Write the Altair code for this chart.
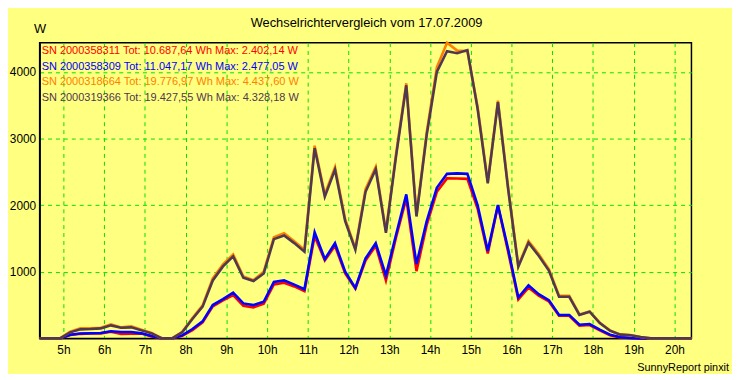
import altair as alt
import pandas as pd

TIMES = [
    "04:25", "04:40", "04:55", "05:10", "05:25", "05:40", "05:55", "06:10", "06:25", "06:40",
    "06:55", "07:10", "07:25", "07:40", "07:55", "08:10", "08:25", "08:40", "08:55", "09:10",
    "09:25", "09:40", "09:55", "10:10", "10:25", "10:40", "10:55", "11:10", "11:25", "11:40",
    "11:55", "12:10", "12:25", "12:40", "12:55", "13:10", "13:25", "13:40", "13:55", "14:10",
    "14:25", "14:40", "14:55", "15:10", "15:25", "15:40", "15:55", "16:10", "16:25", "16:40",
    "16:55", "17:10", "17:25", "17:40", "17:55", "18:10", "18:25", "18:40", "18:55", "19:10",
    "19:25", "19:40", "19:55", "20:10", "20:25",
]

SN_358311 = [
    0, 0, 0,
    50, 68, 72, 75, 100, 65, 70, 72, 30,
    0, 0,
    40, 125, 240, 480, 570, 650, 490, 465, 520, 810, 835, 780, 710,
    1535, 1170, 1390, 975, 745, 1170, 1390, 870, 1520, 2100, 1010, 1700, 2200,
    2402.14, 2400, 2395, 1950, 1275, 1990, 1300, 584, 762, 640, 555,
    340, 340, 190, 200, 120, 45, 15, 5,
    0, 0, 0, 0, 0, 0,
]
SN_358309 = [
    0, 0, 0,
    55, 72, 77, 80, 107, 96, 96, 75, 35,
    0, 0,
    45, 140, 255, 500, 590, 688, 525, 500, 550, 846, 870, 806, 737,
    1594, 1190, 1428, 1000, 757, 1200, 1428, 944, 1560, 2161, 1117, 1757, 2260,
    2470, 2477.05, 2470, 2000, 1314, 2003, 1340, 614, 796, 663, 574,
    352, 352, 204, 215, 130, 56, 18, 5,
    0, 0, 0, 0, 0, 0,
]
SN_318664 = [
    0, 0, 0,
    100, 150, 150, 160, 210, 165, 180, 130, 80,
    0, 0,
    100, 305, 495, 900, 1110, 1260, 930, 875, 1000, 1520, 1580, 1460, 1330,
    2892, 2160, 2570, 1790, 1350, 2240, 2575, 1610, 2775, 3830, 1850, 3090, 4070,
    4437.6, 4320, 4310, 3480, 2350, 3570, 2270, 1090, 1460, 1265, 1040,
    640, 640, 360, 405, 235, 120, 60, 50,
    22, 0, 0, 0, 0, 0,
]
SN_319366 = [
    0, 0, 0,
    90, 135, 140, 150, 195, 160, 165, 120, 75,
    0, 0,
    90, 290, 476, 870, 1080, 1231, 910, 860, 975, 1490, 1545, 1430, 1300,
    2858, 2128, 2533, 1760, 1330, 2200, 2540, 1586, 2740, 3800, 1830, 3050, 4000,
    4310, 4280, 4328.18, 3450, 2326, 3545, 2240, 1077, 1437, 1240, 1018,
    624, 624, 352, 400, 230, 115, 56, 47,
    20, 0, 0, 0, 0, 0,
]

SERIES = ["SN 2000358311", "SN 2000358309", "SN 2000318664", "SN 2000319366"]
VALUES = [SN_358311, SN_358309, SN_318664, SN_319366]
COLORS = ["#FF0000", "#0000FF", "#FF8000", "#503850"]
LEGEND = [
    "SN 2000358311 Tot: 10.687,64 Wh Max: 2.402,14 W",
    "SN 2000358309 Tot: 11.047,17 Wh Max: 2.477,05 W",
    "SN 2000318664 Tot: 19.776,97 Wh Max: 4.437,60 W",
    "SN 2000319366 Tot: 19.427,55 Wh Max: 4.328,18 W",
]
HOUR_TICKS = list(range(5, 21))
Y_TICKS = [1000, 2000, 3000, 4000]
TITLE = "Wechselrichtervergleich vom 17.07.2009"
UNIT = "W"
FOOTER = "SunnyReport pinxit"

FONT = "Liberation Sans"
GRID = "#00E000"


def to_h(s):
    h, m = s.split(":")
    return int(h) + int(m) / 60.0


x_enc = alt.X(
    "t:Q",
    scale=alt.Scale(domain=[to_h(TIMES[0]), to_h(TIMES[-1])], nice=False, zero=False),
    axis=alt.Axis(
        values=HOUR_TICKS, labelExpr="datum.value + 'h'", title=None,
        grid=True, gridColor=GRID, gridDash=[4, 4], gridWidth=1,
        ticks=False, domain=True, domainColor="black", domainWidth=1.5,
        labelFont=FONT, labelFontSize=12, labelColor="black", labelPadding=6,
    ),
)
y_enc = alt.Y(
    "W:Q",
    scale=alt.Scale(domain=[0, 4440], nice=False),
    axis=alt.Axis(
        values=Y_TICKS, title=None, format="d",
        grid=True, gridColor=GRID, gridDash=[4, 4], gridWidth=1,
        ticks=False, domain=True, domainColor="black", domainWidth=1.5,
        labelFont=FONT, labelFontSize=12, labelColor="black", labelPadding=4,
    ),
)

layers = []
for name, vals, col in zip(SERIES, VALUES, COLORS):
    d = pd.DataFrame({"t": [to_h(s) for s in TIMES], "W": vals, "series": name})
    layers.append(
        alt.Chart(d).mark_line(color=col, strokeWidth=2.6, interpolate="linear").encode(x=x_enc, y=y_enc)
    )

one = pd.DataFrame({"a": [0]})
for i, (txt, col) in enumerate(zip(LEGEND, COLORS)):
    layers.append(
        alt.Chart(one).mark_text(align="left", baseline="middle", font=FONT, fontSize=11.1, color=col).encode(
            x=alt.value(2), y=alt.value(8.5 + i * 15.8), text=alt.value(txt)
        )
    )

layers.append(
    alt.Chart(one).mark_text(align="center", baseline="middle", font=FONT, fontSize=13, color="black").encode(
        x=alt.value(330.5), y=alt.value(-20), text=alt.value(TITLE)
    )
)
layers.append(
    alt.Chart(one).mark_text(align="center", baseline="middle", font=FONT, fontSize=13, color="black").encode(
        x=alt.value(0.5), y=alt.value(-14), text=alt.value(UNIT)
    )
)
layers.append(
    alt.Chart(one).mark_text(align="right", baseline="alphabetic", font=FONT, fontSize=11, color="black").encode(
        x=alt.value(697), y=alt.value(332), text=alt.value(FOOTER)
    )
)

chart = alt.layer(*layers).properties(
    width=659, height=299,
    autosize=alt.AutoSizeParams(type="none"),
    padding={"left": 32, "top": 33, "right": 41, "bottom": 34},
    background="#FFFF80",
).configure_view(stroke="black", strokeWidth=1.5)

chart.save("out.html", embed_options={"renderer": "svg", "actions": False})
